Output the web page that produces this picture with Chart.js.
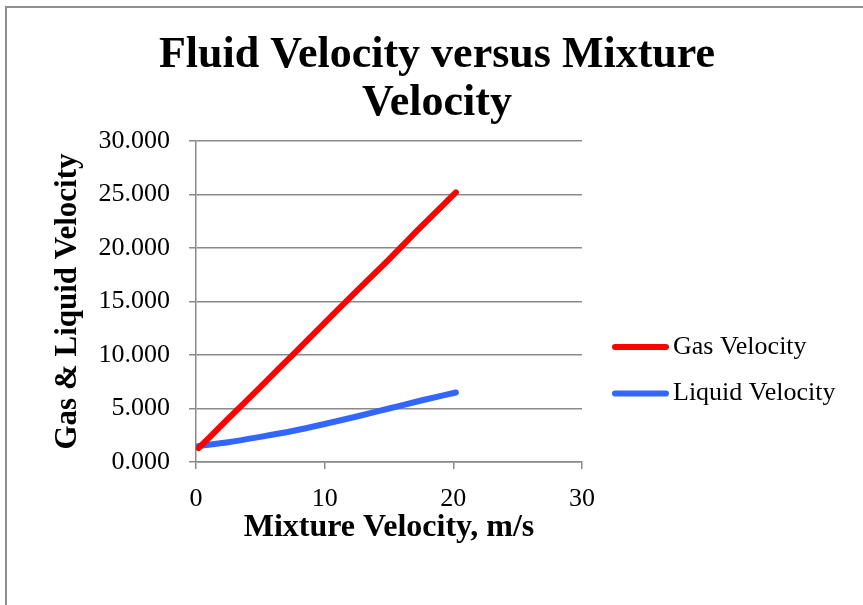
<!DOCTYPE html>
<html>
<head>
<meta charset="utf-8">
<script src="https://cdn.jsdelivr.net/npm/chart.js@4"></script>
<style>
  html, body { margin: 0; padding: 0; background: #fff; }
  #wrap { position: relative; width: 863px; height: 605px; overflow: hidden; }
  #myChart { position: absolute; left: 0; top: 0; }
  #frame { position: absolute; left: 5px; top: 6px; width: 900px; height: 700px;
           border-left: 2px solid #8f8f8f; border-top: 2px solid #8f8f8f; pointer-events: none; }
</style>
</head>
<body>
<div id="wrap">
  <canvas id="myChart" width="863" height="605"></canvas>
  <div id="frame"></div>
</div>
<script>
// Chart data
const mixtureVelocity = [0.2, 2.5, 5, 7.5, 10, 12.5, 15, 17.5, 20.2];
const gasVelocity = [1.3, 4.05, 7.0, 10.0, 13.0, 16.0, 18.95, 22.0, 25.2];
const liquidVelocity = [1.5, 1.85, 2.35, 2.9, 3.55, 4.25, 5.0, 5.75, 6.5];
const seriesNames = ['Gas Velocity', 'Liquid Velocity'];
const xTicks = [0, 10, 20, 30];
const yTicks = [0, 5, 10, 15, 20, 25, 30];

const serif = "'Liberation Serif', 'Times New Roman', serif";
const gridGray = '#8a8a8a';

// Legend drawn to the right of the plot, Excel style
const sideLegend = {
    id: 'sideLegend',
    afterDraw(chart) {
        const c = chart.ctx;
        c.save();
        chart.data.datasets.forEach((ds, i) => {
            const y = 347 + i * 46.5;
            c.strokeStyle = ds.borderColor;
            c.lineWidth = 6;
            c.lineCap = 'round';
            c.beginPath();
            c.moveTo(615, y);
            c.lineTo(666, y);
            c.stroke();
            c.fillStyle = '#000';
            c.font = '26px ' + serif;
            c.textBaseline = 'middle';
            c.textAlign = 'left';
            c.fillText(ds.label, 673, y);
        });
        c.restore();
    }
};

const ctx = document.getElementById('myChart').getContext('2d');

new Chart(ctx, {
    type: 'line',
    data: {
        datasets: [{
            label: seriesNames[0],
            data: mixtureVelocity.map((x, i) => ({ x: x, y: gasVelocity[i] })),
            borderColor: '#ff0000',
            backgroundColor: '#ff0000',
            borderWidth: 6,
            borderCapStyle: 'round',
            borderJoinStyle: 'round',
            pointRadius: 0,
            cubicInterpolationMode: 'monotone',
            fill: false
        }, {
            label: seriesNames[1],
            data: mixtureVelocity.map((x, i) => ({ x: x, y: liquidVelocity[i] })),
            borderColor: '#3366ff',
            backgroundColor: '#3366ff',
            borderWidth: 6,
            borderCapStyle: 'round',
            borderJoinStyle: 'round',
            pointRadius: 0,
            cubicInterpolationMode: 'monotone',
            fill: false
        }]
    },
    options: {
        responsive: false,
        animation: false,
        layout: { padding: { left: 11, right: 0, top: 0, bottom: 0 } },
        scales: {
            x: {
                type: 'linear',
                min: xTicks[0],
                max: xTicks[xTicks.length - 1],
                afterBuildTicks: s => { s.ticks = xTicks.map(v => ({ value: v })); },
                afterFit: s => { s.height = 143; },
                ticks: {
                    color: '#000',
                    font: { family: serif, size: 26 },
                    padding: 15,
                    maxRotation: 0
                },
                grid: {
                    drawOnChartArea: false,
                    drawTicks: true,
                    tickLength: 7,
                    color: gridGray,
                    lineWidth: 1.5
                },
                border: { display: true, color: gridGray, width: 1.5 },
                title: {
                    display: true,
                    text: 'Mixture Velocity, m/s',
                    color: '#000',
                    font: { family: serif, size: 32, weight: 'bold' },
                    padding: { top: 0, bottom: 58 }
                }
            },
            y: {
                type: 'linear',
                min: yTicks[0],
                max: yTicks[yTicks.length - 1],
                afterBuildTicks: s => { s.ticks = yTicks.map(v => ({ value: v })); },
                afterFit: s => { s.width = 185; },
                ticks: {
                    color: '#000',
                    font: { family: serif, size: 26 },
                    padding: 19,
                    callback: v => v.toFixed(3)
                },
                grid: {
                    drawOnChartArea: true,
                    drawTicks: true,
                    tickLength: 7,
                    color: gridGray,
                    lineWidth: 1.5
                },
                border: { display: true, color: gridGray, width: 1.5 },
                title: {
                    display: true,
                    text: 'Gas & Liquid Velocity',
                    color: '#000',
                    font: { family: serif, size: 31, weight: 'bold' },
                    padding: { top: 38, bottom: 0 }
                }
            },
            // empty right-hand axis that reserves room for the legend
            yRight: {
                type: 'linear',
                position: 'right',
                display: true,
                afterFit: s => { s.width = 281; },
                ticks: { display: false },
                grid: { display: false },
                border: { display: false }
            }
        },
        plugins: {
            legend: { display: false },
            tooltip: { enabled: false },
            title: {
                display: true,
                text: ['Fluid Velocity versus Mixture', 'Velocity'],
                color: '#000',
                font: { family: serif, size: 44, weight: 'bold', lineHeight: 1.08 },
                padding: { top: 32, bottom: 14 }
            }
        }
    },
    plugins: [sideLegend]
});
</script>
</body>
</html>
